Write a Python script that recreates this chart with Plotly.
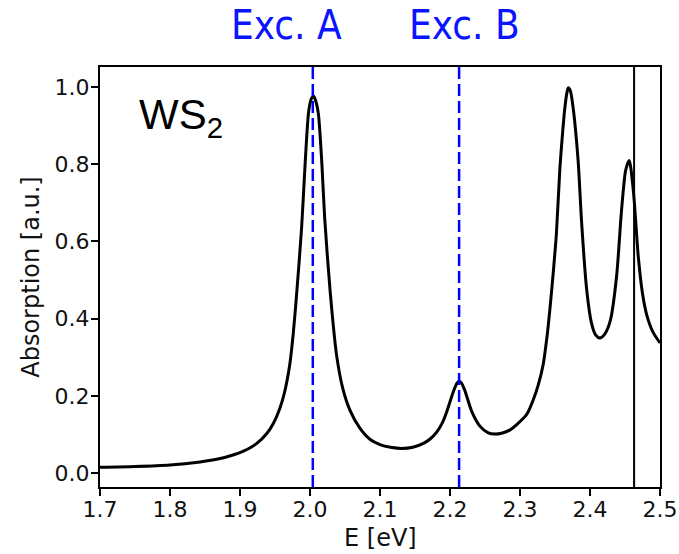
import plotly.graph_objects as go

# ---- data ----
energy_eV = [1.70, 1.75, 1.80, 1.843, 1.87, 1.89, 1.905, 1.914, 1.924, 1.938,
             1.948, 1.957, 1.964, 1.971, 1.976, 1.981, 1.988, 1.993, 1.998, 2.002,
             2.005, 2.008, 2.012, 2.017, 2.021, 2.029, 2.038, 2.047, 2.057, 2.071,
             2.086, 2.10, 2.115, 2.131, 2.147, 2.162, 2.172, 2.181, 2.189, 2.195,
             2.205, 2.210, 2.213, 2.216, 2.221, 2.231, 2.243, 2.254, 2.264, 2.275,
             2.286, 2.298, 2.31, 2.319, 2.326, 2.333, 2.339, 2.343, 2.348, 2.352,
             2.357, 2.361, 2.364, 2.367, 2.369, 2.372, 2.376, 2.383, 2.388, 2.395,
             2.402, 2.408, 2.414, 2.421, 2.429, 2.438, 2.445, 2.451, 2.456, 2.462,
             2.469, 2.475, 2.481, 2.49, 2.50]
absorption = [0.015, 0.017, 0.021, 0.029, 0.037, 0.047, 0.057, 0.065, 0.077, 0.102,
              0.13, 0.168, 0.212, 0.28, 0.36, 0.466, 0.635, 0.80, 0.935, 0.97,
              0.977, 0.965, 0.93, 0.80, 0.66, 0.466, 0.305, 0.218, 0.163, 0.117,
              0.087, 0.074, 0.067, 0.064, 0.067, 0.077, 0.089, 0.106, 0.13, 0.157,
              0.212, 0.233, 0.238, 0.234, 0.215, 0.16, 0.121, 0.105, 0.101, 0.104,
              0.112, 0.13, 0.153, 0.19, 0.228, 0.28, 0.36, 0.43, 0.53, 0.62,
              0.79, 0.885, 0.945, 0.985, 0.998, 0.99, 0.945, 0.81, 0.65, 0.48,
              0.39, 0.358, 0.35, 0.36, 0.395, 0.51, 0.68, 0.785, 0.81, 0.73,
              0.56, 0.465, 0.41, 0.365, 0.337]

exciton_labels = ["Exc. A", "Exc. B"]
exciton_E = [2.004, 2.213]
exciton_label_E = [1.966, 2.221]
cutoff_E = 2.463

x_ticks = [1.7, 1.8, 1.9, 2.0, 2.1, 2.2, 2.3, 2.4, 2.5]
y_ticks = [0.0, 0.2, 0.4, 0.6, 0.8, 1.0]
x_range = [1.7, 2.5]
y_range = [-0.036, 1.052]
material = "WS<sub>2</sub>"
x_title = "E [eV]"
y_title = "Absorption [a.u.]"

fig = go.Figure()
fig.add_trace(go.Scatter(
    x=energy_eV, y=absorption, mode="lines",
    line=dict(color="black", width=3, shape="spline", smoothing=0.7),
    showlegend=False, hoverinfo="skip"))

for e in exciton_E:
    fig.add_vline(x=e, line=dict(color="#0000ff", width=2.5, dash="12px,5px"))
fig.add_vline(x=cutoff_E, line=dict(color="black", width=2))

for lab, e in zip(exciton_labels, exciton_label_E):
    fig.add_annotation(x=e, xref="x", y=1.10, yref="paper", text=lab,
                       showarrow=False, xanchor="center", yanchor="middle",
                       font=dict(family="DejaVu Sans Condensed, DejaVu Sans", size=40, color="#0a14ff"))

fig.add_annotation(x=0.066, xref="paper", y=0.88, yref="paper", text=material,
                   showarrow=False, xanchor="left", yanchor="middle",
                   font=dict(family="Liberation Sans, Arial", size=42, color="black"))

fig.add_annotation(x=0.5, xref="paper", y=-0.121, yref="paper", text=x_title,
                   showarrow=False, xanchor="center", yanchor="middle",
                   font=dict(family="DejaVu Sans", size=24, color="#111"))

axis_common = dict(showline=True, linecolor="black", linewidth=2, mirror=True,
                   ticks="outside", ticklen=7, tickwidth=2, tickcolor="black",
                   showgrid=False, zeroline=False,
                   tickfont=dict(family="DejaVu Sans", size=22, color="#111"))

fig.update_xaxes(range=x_range, tickvals=x_ticks, tickformat=".1f",
                 ticklabelstandoff=-5, **axis_common)
fig.update_yaxes(range=y_range, tickvals=y_ticks, tickformat=".1f",
                 ticklabelstandoff=-3,
                 title=dict(text=y_title, font=dict(family="DejaVu Sans", size=24, color="#111"), standoff=8),
                 **axis_common)

fig.update_layout(width=679, height=554, plot_bgcolor="white", paper_bgcolor="white",
                  margin=dict(l=100, r=19, t=67, b=67, autoexpand=False))

fig.write_html("out.html", config={"displayModeBar": False},
               post_script="document.body.style.margin='0';document.body.style.overflow='hidden';")
